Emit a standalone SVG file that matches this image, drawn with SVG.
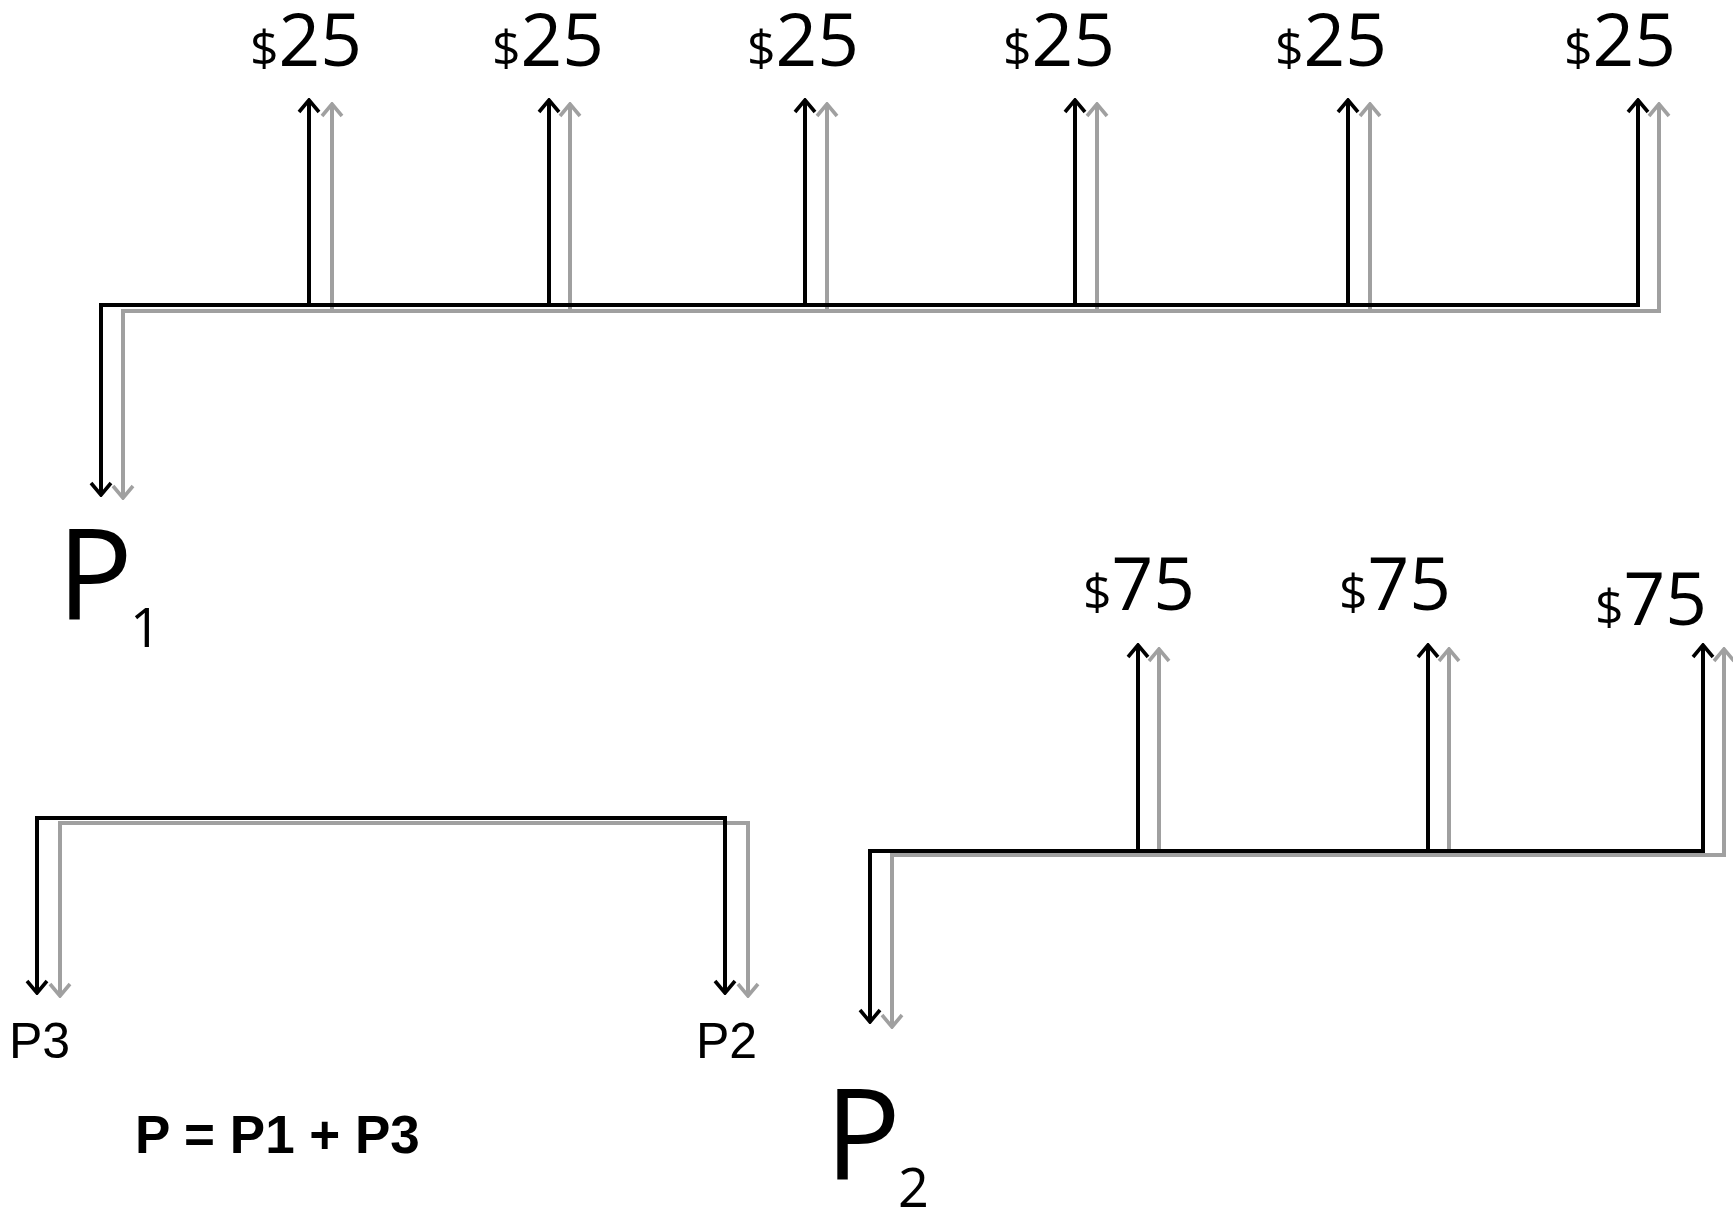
<svg xmlns="http://www.w3.org/2000/svg" width="1733" height="1212" viewBox="0 0 1733 1212">
<defs>
<style>
.k{fill:none;stroke:#000;stroke-width:4}
.g{fill:none;stroke:#a0a0a0;stroke-width:4}
.amt{font-family:"Open Sans","Noto Sans",sans-serif;font-size:73px;fill:#000}
.dol{font-size:50px}
.big{font-family:"Open Sans","Noto Sans",sans-serif;font-size:126px;fill:#000}
.sub{font-family:"Open Sans","Noto Sans",sans-serif;font-size:54px;fill:#000}
.lbl{font-family:"Liberation Sans",Arial,sans-serif;font-size:50px;fill:#000}
.eq{font-family:"Liberation Sans",Arial,sans-serif;font-size:53px;font-weight:bold;fill:#000}
</style>
<marker id="ak" viewBox="0 0 16 24" refX="14" refY="12" markerWidth="16" markerHeight="24" markerUnits="userSpaceOnUse" orient="auto-start-reverse">
<path d="M2,2 L14,12 L2,22" fill="none" stroke="#000" stroke-width="3.6"/>
</marker>
<marker id="ag" viewBox="0 0 16 24" refX="14" refY="12" markerWidth="16" markerHeight="24" markerUnits="userSpaceOnUse" orient="auto-start-reverse">
<path d="M2,2 L14,12 L2,22" fill="none" stroke="#a0a0a0" stroke-width="3.6"/>
</marker>
</defs>
<rect width="1733" height="1212" fill="#fff"/>
<g id="connectors">
<g class="g">
<path d="M123,498 L123,311 L1659,311 L1659,104" marker-start="url(#ag)" marker-end="url(#ag)"/>
<path d="M332,311 L332,104" marker-end="url(#ag)"/>
<path d="M570,311 L570,104" marker-end="url(#ag)"/>
<path d="M827,311 L827,104" marker-end="url(#ag)"/>
<path d="M1097,311 L1097,104" marker-end="url(#ag)"/>
<path d="M1370,311 L1370,104" marker-end="url(#ag)"/>
</g>
<g class="k">
<path d="M101,495 L101,305 L1638,305 L1638,100" marker-start="url(#ak)" marker-end="url(#ak)"/>
<path d="M309,305 L309,100" marker-end="url(#ak)"/>
<path d="M549,305 L549,100" marker-end="url(#ak)"/>
<path d="M805,305 L805,100" marker-end="url(#ak)"/>
<path d="M1075,305 L1075,100" marker-end="url(#ak)"/>
<path d="M1348,305 L1348,100" marker-end="url(#ak)"/>
</g>
<path class="g" d="M60,996 L60,823 L748,823 L748,996" marker-start="url(#ag)" marker-end="url(#ag)"/>
<path class="k" d="M37,993 L37,818 L725,818 L725,993" marker-start="url(#ak)" marker-end="url(#ak)"/>
<g class="g">
<path d="M892,1027 L892,855 L1724,855 L1724,649" marker-start="url(#ag)" marker-end="url(#ag)"/>
<path d="M1159,855 L1159,649" marker-end="url(#ag)"/>
<path d="M1449,855 L1449,649" marker-end="url(#ag)"/>
</g>
<g class="k">
<path d="M870,1022 L870,851 L1703,851 L1703,645" marker-start="url(#ak)" marker-end="url(#ak)"/>
<path d="M1138,851 L1138,645" marker-end="url(#ak)"/>
<path d="M1428,851 L1428,645" marker-end="url(#ak)"/>
</g>
</g>
<g id="amounts25">
<text class="amt" x="250" y="66"><tspan class="dol">$</tspan>25</text>
<text class="amt" x="492" y="66"><tspan class="dol">$</tspan>25</text>
<text class="amt" x="747" y="66"><tspan class="dol">$</tspan>25</text>
<text class="amt" x="1003" y="66"><tspan class="dol">$</tspan>25</text>
<text class="amt" x="1275" y="66"><tspan class="dol">$</tspan>25</text>
<text class="amt" x="1564" y="66"><tspan class="dol">$</tspan>25</text>
</g>
<g id="amounts75">
<text class="amt" x="1083" y="610"><tspan class="dol">$</tspan>75</text>
<text class="amt" x="1339" y="610"><tspan class="dol">$</tspan>75</text>
<text class="amt" x="1595" y="625"><tspan class="dol">$</tspan>75</text>
</g>
<g id="P1"><text class="big" x="57" y="620">P</text><text class="sub" x="130" y="647">1</text></g>
<g id="P2"><text class="big" x="825" y="1180">P</text><text class="sub" x="898" y="1207">2</text></g>
<g id="P3label"><text class="lbl" x="9" y="1058">P3</text></g>
<g id="P2label"><text class="lbl" x="696" y="1058">P2</text></g>
<g id="equation"><text class="eq" x="135" y="1153">P = P1 + P3</text></g>
</svg>
